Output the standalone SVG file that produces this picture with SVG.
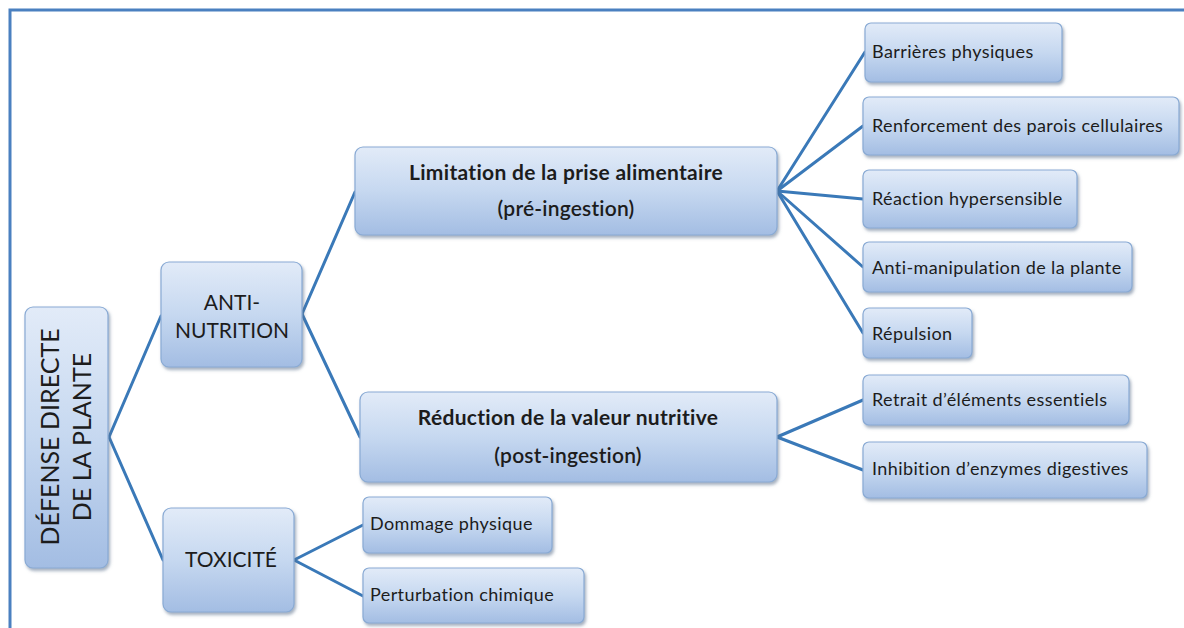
<svg xmlns="http://www.w3.org/2000/svg" width="1184" height="628" viewBox="0 0 1184 628">
<defs>
<linearGradient id="g" x1="0" y1="0" x2="0" y2="1">
<stop offset="0" stop-color="#e2ebf8"/>
<stop offset="0.5" stop-color="#c6d8f0"/>
<stop offset="1" stop-color="#a3bde3"/>
</linearGradient>
<filter id="sh" x="-10%" y="-10%" width="130%" height="140%">
<feDropShadow dx="1.5" dy="2.5" stdDeviation="1.8" flood-color="#5a6e8a" flood-opacity="0.55"/>
</filter>
<style>
.b{fill:url(#g);stroke:#89aad4;stroke-width:1.2;filter:url(#sh)}
.c{stroke:#3a79b8;stroke-width:3;fill:none;stroke-linecap:round}
text{font-family:Lato,"Liberation Sans",sans-serif;fill:#1c1c1c}
.s{font-size:18px;letter-spacing:0.4px}
.m{font-size:21px;text-anchor:middle;letter-spacing:0.3px;font-weight:bold}
.m2{font-size:21px;text-anchor:middle;letter-spacing:0.2px;font-weight:600}
.l{font-size:21px;text-anchor:middle}
.r{font-size:25px;text-anchor:middle}
</style>
</defs>
<rect width="1184" height="628" fill="#ffffff"/>
<path d="M10 628 V10 H1184" stroke="#4a80c0" stroke-width="3" fill="none"/>
<g id="connectors">
<path class="c" d="M109 437 L161 316"/>
<path class="c" d="M109 437 L163 560"/>
<path class="c" d="M302 314 L355 192"/>
<path class="c" d="M302 314 L360 437"/>
<path class="c" d="M294 560 L363 525"/>
<path class="c" d="M294 560 L363 596"/>
<path class="c" d="M777 191 L865 52"/>
<path class="c" d="M777 191 L863 126"/>
<path class="c" d="M777 191 L863 199"/>
<path class="c" d="M777 191 L863 267"/>
<path class="c" d="M777 191 L863 333"/>
<path class="c" d="M777 437 L863 400"/>
<path class="c" d="M777 437 L863 470"/>
</g>
<g id="root">
<rect class="b" x="25" y="307" width="83" height="261" rx="8"/>
<text class="r" transform="translate(59 437) rotate(-90)">DÉFENSE DIRECTE</text>
<text class="r" transform="translate(91 437) rotate(-90)">DE LA PLANTE</text>
</g>
<g id="anti-nutrition">
<rect class="b" x="161" y="262" width="141" height="105" rx="8"/>
<text class="l" x="232" y="310">ANTI-</text>
<text class="l" x="232" y="338">NUTRITION</text>
</g>
<g id="toxicite">
<rect class="b" x="163" y="508" width="131" height="104" rx="8"/>
<text class="l" x="231" y="567">TOXICITÉ</text>
</g>
<g id="limitation">
<rect class="b" x="355" y="147" width="422" height="88" rx="8"/>
<text class="m" x="566" y="180">Limitation de la prise alimentaire</text>
<text class="m2" x="566" y="216">(pré-ingestion)</text>
</g>
<g id="reduction">
<rect class="b" x="360" y="392" width="417" height="90" rx="8"/>
<text class="m" x="568" y="425">Réduction de la valeur nutritive</text>
<text class="m2" x="568" y="463">(post-ingestion)</text>
</g>
<g id="barrieres">
<rect class="b" x="865" y="23" width="197" height="59" rx="6"/>
<text class="s" x="872" y="58">Barrières physiques</text>
</g>
<g id="renforcement">
<rect class="b" x="863" y="97" width="316" height="58" rx="6"/>
<text class="s" x="872" y="132">Renforcement des parois cellulaires</text>
</g>
<g id="reaction">
<rect class="b" x="863" y="170" width="214" height="58" rx="6"/>
<text class="s" x="872" y="205">Réaction hypersensible</text>
</g>
<g id="antimanipulation">
<rect class="b" x="863" y="242" width="269" height="50" rx="6"/>
<text class="s" x="872" y="274">Anti-manipulation de la plante</text>
</g>
<g id="repulsion">
<rect class="b" x="863" y="308" width="109" height="50" rx="6"/>
<text class="s" x="872" y="340">Répulsion</text>
</g>
<g id="retrait">
<rect class="b" x="863" y="375" width="266" height="50" rx="6"/>
<text class="s" x="872" y="406">Retrait d’éléments essentiels</text>
</g>
<g id="inhibition">
<rect class="b" x="863" y="442" width="284" height="56" rx="6"/>
<text class="s" x="872" y="475">Inhibition d’enzymes digestives</text>
</g>
<g id="dommage">
<rect class="b" x="363" y="497" width="189" height="56" rx="6"/>
<text class="s" x="370" y="530">Dommage physique</text>
</g>
<g id="perturbation">
<rect class="b" x="363" y="568" width="221" height="55" rx="6"/>
<text class="s" x="370" y="601">Perturbation chimique</text>
</g>
</svg>
